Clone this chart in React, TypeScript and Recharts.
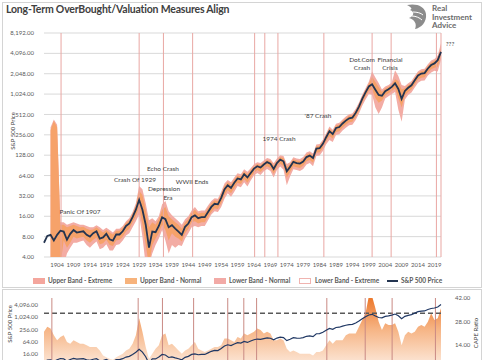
import {
  ComposedChart,
  Area,
  Line,
  XAxis,
  YAxis,
  CartesianGrid,
  ReferenceLine,
} from 'recharts';

const START_YEAR = 1900;

// S&P 500 price, one point per year 1900-2021
const price = [
  6.5, 8.2, 8.5, 7.0, 8.5, 9.8, 9.5, 7.2, 8.8, 10.0,
  9.2, 9.4, 9.6, 8.5, 8.0, 9.0, 9.6, 7.5, 7.8, 8.8,
  7.3, 7.0, 8.6, 8.6, 9.6, 11.5, 12.5, 15.5, 20.0, 28.0,
  20.0, 12.0, 5.5, 9.5, 9.3, 11.5, 15.5, 14.5, 11.0, 11.8,
  10.5, 9.5, 8.5, 11.2, 12.5, 15.5, 16.5, 15.0, 15.5, 15.5,
  18.5, 22.0, 24.5, 24.0, 30.0, 40.0, 46.0, 42.0, 50.0, 58.0,
  56.0, 67.0, 60.0, 70.0, 81.0, 88.0, 84.0, 93.0, 101.0, 96.0,
  80.0, 98.0, 110.0, 104.0, 74.0, 86.0, 102.0, 98.0, 96.0, 103.0,
  120.0, 126.0, 116.0, 160.0, 162.0, 188.0, 236.0, 290.0, 262.0, 323.0,
  334.0, 377.0, 415.0, 450.0, 460.0, 540.0, 670.0, 873.0, 1085.0, 1327.0,
  1430.0, 1190.0, 995.0, 965.0, 1130.0, 1207.0, 1310.0, 1477.0, 1220.0, 870.0,
  1140.0, 1270.0, 1380.0, 1640.0, 1930.0, 2060.0, 2090.0, 2450.0, 2750.0, 2910.0,
  3250.0, 4300.0,
];

const upperExtreme = [
  null, null, 330, 430, 360, 13, 13, 12, 12.5, 13,
  12.5, 12, 12, 11.5, 11, 11, 11.8, 11, 10, 10.8,
  10, 9.2, 10.5, 10.5, 11.5, 13.5, 15, 18.5, 25, 45,
  40, 25, 14, 15, 13.5, 16, 24, 27, 19, 16.5,
  15, 13.5, 12, 14.5, 16, 19.5, 22, 19, 19.5, 19.5,
  23, 27, 29.5, 29, 37, 49, 55, 51, 60, 69,
  67, 79, 73, 82, 94, 101, 98, 107, 116, 112,
  97, 114, 128, 124, 95, 101, 119, 114, 112, 120,
  140, 146, 136, 184, 187, 216, 270, 340, 305, 372,
  385, 433, 477, 517, 530, 621, 770, 1000, 1245, 1560,
  2200, 1800, 1500, 1200, 1330, 1400, 1520, 2300, 1900, 1400,
  1350, 1480, 1600, 1900, 2230, 2380, 2420, 2830, 3200, 3380,
  3800, 5800,
];

const upperNormal = [
  null, null, 300, 410, 330, 12, 12, 11, 11.5, 12,
  11.5, 11, 11.2, 10.5, 10, 10.2, 11, 10, 9.2, 10,
  9.2, 8.6, 9.8, 9.8, 10.8, 12.8, 14, 17.5, 23, 38,
  33, 20, 11, 13, 12, 14.5, 20, 22, 16, 14.5,
  13, 12, 10.5, 13, 14.5, 18, 20, 17.5, 18, 18,
  21, 25, 27.5, 27, 34, 45, 51, 47, 56, 64,
  62, 74, 67, 77, 88, 95, 92, 101, 109, 105,
  90, 107, 120, 116, 86, 94, 111, 107, 105, 112,
  131, 137, 127, 173, 176, 204, 255, 318, 287, 351,
  363, 409, 450, 488, 500, 586, 727, 945, 1177, 1460,
  1850, 1550, 1300, 1100, 1240, 1320, 1430, 1700, 1600, 1200,
  1250, 1390, 1500, 1780, 2100, 2240, 2280, 2670, 3000, 3180,
  3550, 4900,
];

const lowerNormal = [
  null, null, 3, 3, 3, 3, 7, 5.5, 6.5, 8,
  7.5, 7.8, 8, 7, 6.5, 7.2, 7.8, 6.2, 6.4, 7.2,
  6, 5.8, 7, 7.2, 8, 9.5, 10.5, 13, 16, 22,
  12, 6, 3, 6, 7.5, 9, 12, 10, 7, 9,
  8, 7.5, 6.8, 9, 10.5, 13, 13.5, 12.5, 13, 13,
  15.5, 18.5, 21, 20.5, 25, 33, 39, 35, 42, 50,
  48, 57, 50, 60, 70, 77, 72, 81, 88, 83,
  68, 85, 96, 88, 60, 72, 88, 85, 83, 89,
  104, 109, 99, 139, 141, 164, 206, 245, 225, 282,
  290, 328, 362, 393, 400, 470, 583, 760, 945, 1150,
  1200, 900, 760, 820, 980, 1050, 1140, 1250, 900, 650,
  980, 1100, 1200, 1420, 1680, 1790, 1810, 2130, 2380, 2520,
  2600, 3700,
];

const lowerExtreme = [
  null, null, 3, 3, 3, 3, 3, 4.5, 5.5, 6.5,
  6.5, 6.8, 7, 6, 5.5, 6.2, 6.8, 5.2, 5.5, 6.2,
  5, 5, 6, 6.2, 7, 8.3, 9, 11, 13.5, 17,
  8, 3, 3, 4.5, 6, 7.5, 10, 7, 4.5, 6,
  5.5, 6, 5.8, 7.5, 9, 11, 11.5, 11, 11.5, 11.5,
  14, 17, 19, 18.5, 22, 29, 35, 31, 37, 45,
  43, 51, 44, 54, 64, 70, 65, 74, 80, 75,
  60, 77, 87, 78, 46, 62, 79, 77, 75, 80,
  93, 98, 88, 125, 127, 148, 186, 215, 200, 255,
  262, 297, 327, 355, 362, 425, 527, 687, 855, 1030,
  1000, 650, 520, 650, 880, 950, 1030, 1100, 600, 400,
  850, 990, 1080, 1280, 1510, 1610, 1630, 1920, 2130, 2260,
  2200, 3300,
];

const cape = [
  22, 25, 24, 20, 17, 19, 20, 16, 15, 17,
  16, 15, 15, 14, 13, 13, 13, 11, 8, 7,
  6, 5.5, 7, 8, 9, 11, 12, 15, 20, 30,
  22, 13, 6, 9, 12, 14, 20, 21, 14, 15,
  13, 11, 9, 11, 12, 14, 16, 12, 11, 10,
  11, 12, 13, 13, 14, 18, 18, 17, 16, 19,
  18, 21, 20, 21, 22, 24, 23, 21, 22, 21,
  17, 17, 18, 17, 12, 10, 11, 10, 9, 9,
  9, 9, 8, 10, 10, 11, 14, 17, 15, 17,
  17, 17, 20, 21, 21, 21, 25, 29, 33, 43,
  43, 36, 28, 23, 27, 26, 26, 27, 22, 14,
  20, 22, 21, 22, 25, 26, 25, 28, 33, 29,
  30, 36,
];

const xTicks = [
  1904, 1909, 1914, 1919, 1924, 1929, 1934, 1939, 1944, 1949, 1954, 1959,
  1964, 1969, 1974, 1979, 1984, 1989, 1994, 1999, 2004, 2009, 2014, 2019,
];
const topTicks = [4, 8, 16, 32, 64, 128, 256, 512, 1024, 2048, 4096, 8192];
const bottomPriceTicks = [16, 64, 256, 1024, 4096];
const capeTicks = [14, 28, 42];
const capeLimit = 33;

// years where the red marker lines sit
const topMarkers = [1905.2, 1929, 1936.4, 1945.3, 1964.2, 1967.3, 1971.3, 1985.3, 2000, 2005.8, 2019.6, 2021];
const bottomMarkers = [1902.4, 1928.7, 1936.1, 1945.6, 1956, 1960.9, 1964.8, 1986.2, 1997.9, 2006.1, 2019.3];

const notes = [
  { text: 'Panic Of 1907', x: 80, y: 211 },
  { text: 'Crash Of 1929', x: 135, y: 179 },
  { text: 'Echo Crash', x: 163, y: 168 },
  { text: 'Depression', x: 164, y: 188 },
  { text: 'Era', x: 168, y: 197 },
  { text: 'WWII Ends', x: 192, y: 181 },
  { text: '1974 Crash', x: 279, y: 138 },
  { text: "'87 Crash", x: 318, y: 115 },
  { text: 'Dot.Com', x: 362, y: 59 },
  { text: 'Crash', x: 362, y: 67 },
  { text: 'Financial', x: 390, y: 59 },
  { text: 'Crisis', x: 390, y: 67 },
  { text: '???', x: 450, y: 43 },
];

const rows = price.map((p, i) => ({
  year: START_YEAR + i,
  price: p,
  ext: upperExtreme[i] == null ? null : [lowerExtreme[i], upperExtreme[i]],
  norm: upperNormal[i] == null ? null : [lowerNormal[i], upperNormal[i]],
  cape: cape[i],
}));

const fmt = (v: number) =>
  v.toLocaleString('en-US', { minimumFractionDigits: 2, maximumFractionDigits: 2 });

const FONT = 'Lato, "Open Sans", sans-serif';
const tickStyle = { fontSize: 6, fill: '#595959', fontFamily: FONT };

const legendItems = [
  { label: 'Upper Band - Extreme', color: '#f4a69d', x: 33, tx: 48 },
  { label: 'Upper Band - Normal', color: '#f7b37c', x: 125, tx: 140 },
  { label: 'Lower Band - Normal', color: '#f2aaa6', x: 214, tx: 229 },
  { label: 'Lower Band - Extreme', color: '#fff', x: 299, tx: 315, border: true },
];

function Logo() {
  return (
    <div style={{ position: 'absolute', left: 404, top: 3 }}>
      <svg width={24} height={27} viewBox="0 0 24 27">
        <path d="M3 2 C12 0 21 3 22 11 C23 19 17 25 11 26 C13 21 11 17 5 15 C10 13 11 9 6 7 C9 6 7 4 3 2 Z" fill="#8c8c8c" />
        <path d="M9 9 C13 9 17 10 19 12" stroke="#fff" strokeWidth={1} fill="none" />
        <path d="M8 13 C12 13 16 15 18 17" stroke="#fff" strokeWidth={1} fill="none" />
      </svg>
      <div style={{ position: 'absolute', left: 28, top: 1, fontSize: 8, lineHeight: '8.5px', fontWeight: 700, color: '#6b6b6b', fontFamily: FONT, whiteSpace: 'nowrap' }}>
        Real<br />Investment<br />Advice
      </div>
    </div>
  );
}

export default function App() {
  return (
    <div style={{ position: 'fixed', left: 0, top: 0, width: 485, height: 360, overflow: 'hidden', background: '#fff', fontFamily: FONT }}>
      <div style={{ position: 'absolute', left: 2, top: 2, width: 478, height: 284, border: '1px solid #d4d4d4' }} />
      <div style={{ position: 'absolute', left: 2, top: 289, width: 478, height: 90, border: '1px solid #d4d4d4' }} />
      <div style={{ position: 'absolute', left: 6, top: 3, fontSize: 10.5, fontWeight: 700, color: '#404040', letterSpacing: -0.2, whiteSpace: 'nowrap' }}>
        Long-Term OverBought/Valuation Measures Align
      </div>
      <Logo />

      <div style={{ position: 'absolute', left: 0, top: 0 }}>
        <ComposedChart width={485} height={280} data={rows} margin={{ top: 33, right: 44, bottom: 3, left: 0 }}>
          <CartesianGrid vertical={false} stroke="#d9d9d9" />
          <XAxis dataKey="year" type="number" domain={[1900, 2021]} ticks={xTicks} interval={0}
            tick={tickStyle} tickLine={false} axisLine={false} height={20} tickMargin={0} />
          <YAxis scale="log" domain={[4, 8192]} ticks={topTicks} interval={0} allowDataOverflow
            tickFormatter={fmt} tick={tickStyle} tickLine={false} axisLine={false} width={44} tickMargin={4} />
          <Area dataKey="ext" fill="#f3aca4" fillOpacity={1} stroke="none" isAnimationActive={false} />
          <Area dataKey="norm" fill="#f6a26a" fillOpacity={1} stroke="none" isAnimationActive={false} />
          {topMarkers.map((m) => (
            <ReferenceLine key={m} x={m} stroke="#e9a7a3" strokeWidth={1} />
          ))}
          <Line dataKey="price" stroke="#233450" strokeWidth={1.8} dot={false} isAnimationActive={false} />
        </ComposedChart>
      </div>

      {notes.map((n) => (
        <div key={n.text + n.y} style={{ position: 'absolute', left: n.x, top: n.y, transform: 'translate(-50%, -50%)', fontSize: 6.5, color: '#404040', whiteSpace: 'nowrap' }}>
          {n.text}
        </div>
      ))}
      <div style={{ position: 'absolute', left: 12, top: 131, transform: 'translate(-50%, -50%) rotate(-90deg)', fontSize: 6, color: '#404040', whiteSpace: 'nowrap' }}>
        S&amp;P 500 Price
      </div>

      {legendItems.map((it) => (
        <div key={it.label}>
          <div style={{ position: 'absolute', left: it.x, top: 278, width: 12, height: 6, background: it.color, border: it.border ? '1px solid #f0b4b0' : 'none', boxSizing: 'border-box' }} />
          <div style={{ position: 'absolute', left: it.tx, top: 277, fontSize: 6.5, fontWeight: 700, color: '#595959', whiteSpace: 'nowrap' }}>{it.label}</div>
        </div>
      ))}
      <div style={{ position: 'absolute', left: 387, top: 280, width: 11, height: 2, background: '#233450' }} />
      <div style={{ position: 'absolute', left: 401, top: 277, fontSize: 6.5, fontWeight: 700, color: '#595959', whiteSpace: 'nowrap' }}>S&amp;P 500 Price</div>

      <div style={{ position: 'absolute', left: 0, top: 290 }}>
        <ComposedChart width={485} height={90} data={rows} margin={{ top: 8, right: 0, bottom: 11, left: 0 }}>
          <defs>
            <linearGradient id="capeFill" x1="0" y1="0" x2="0" y2="1">
              <stop offset="0" stopColor="#ec7527" />
              <stop offset="0.45" stopColor="#f6b484" />
              <stop offset="1" stopColor="#fdeee3" />
            </linearGradient>
          </defs>
          <XAxis dataKey="year" type="number" domain={[1900, 2021]} hide />
          <YAxis yAxisId="l" scale="log" domain={[3, 9000]} ticks={bottomPriceTicks} interval={0} allowDataOverflow
            tickFormatter={fmt} tick={tickStyle} tickLine={false} axisLine={false} width={44} tickMargin={0} />
          <YAxis yAxisId="r" orientation="right" domain={[0, 42]} ticks={capeTicks} interval={0} allowDataOverflow
            tickFormatter={fmt} tick={tickStyle} tickLine={false} axisLine={false} width={44} tickMargin={8} />
          <Area yAxisId="r" dataKey="cape" fill="url(#capeFill)" fillOpacity={1} stroke="none" isAnimationActive={false} />
          <ReferenceLine yAxisId="r" y={capeLimit} stroke="#595959" strokeDasharray="5 3" strokeWidth={1.5} />
          {bottomMarkers.map((m) => (
            <ReferenceLine key={m} yAxisId="r" x={m} stroke="#c98a84" strokeWidth={1} />
          ))}
          <Line yAxisId="l" dataKey="price" stroke="#203864" strokeWidth={1.2} dot={false} isAnimationActive={false} />
        </ComposedChart>
      </div>
      <div style={{ position: 'absolute', left: 9, top: 324, transform: 'translate(-50%, -50%) rotate(-90deg)', fontSize: 6, color: '#404040', whiteSpace: 'nowrap' }}>
        S&amp;P 500 Price
      </div>
      <div style={{ position: 'absolute', left: 475, top: 333, transform: 'translate(-50%, -50%) rotate(-90deg)', fontSize: 6, color: '#404040', whiteSpace: 'nowrap' }}>
        CAPE Ratio
      </div>
    </div>
  );
}
